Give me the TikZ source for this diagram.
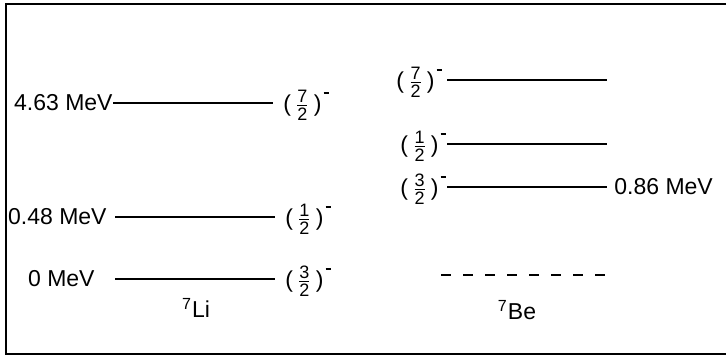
\documentclass[tikz,border=0pt]{standalone}
\usepackage{amsmath}
\usepackage{fontspec}
\setmainfont{Liberation Sans}
\usetikzlibrary{positioning}

% spin-parity label, e.g. (7/2)^-
\newcommand{\spin}[1]{(\hspace{2pt}\ensuremath{\genfrac{}{}{0.4pt}{1}{\mbox{\fontsize{9}{9}\selectfont #1}}{\mbox{\fontsize{9}{9}\selectfont 2}}}\hspace{2pt})\hspace{1pt}\raisebox{9pt}{\rule{2.5pt}{0.7pt}}}

\begin{document}
\begin{tikzpicture}[x=0.5pt, y=-0.5pt,
    level/.style={line width=1.3pt},
    txt/.style={font=\fontsize{11.5}{13}\selectfont, inner sep=0pt}]
    \useasboundingbox (0,0) rectangle (727,359);

    % Khung (open on the right)
    \draw[line width=1.2pt] (726,4) -- (6,4) -- (6,354) -- (726,354);

    % Levels of 7Li
    \coordinate (li0w) at (115,279); \coordinate (li0e) at (275,279);
    \coordinate (li1w) at (115,217); \coordinate (li1e) at (275,217);
    \coordinate (li2w) at (113,103); \coordinate (li2e) at (273,103);
    \draw[level] (li0w) -- (li0e);
    \draw[level] (li1w) -- (li1e);
    \draw[level] (li2w) -- (li2e);

    \node[txt, anchor=east] (eli0) at (95,279) {0 MeV};
    \node[txt, anchor=east] (eli1) at (107,217) {0.48 MeV};
    \node[txt, anchor=east] (eli2) at (li2w) {4.63 MeV};
    \node[txt, anchor=west] (jli0) at (285,281) {\spin{3}};
    \node[txt, anchor=west] (jli1) at (285,219) {\spin{1}};
    \node[txt, anchor=west] (jli2) at (283,105) {\spin{7}};
    \node[txt] (li) at (196,308) {\textsuperscript{7}Li};

    % Levels of 7Be
    \coordinate (be0w) at (441,275); \coordinate (be0e) at (607,275);
    \coordinate (be1w) at (447,187); \coordinate (be1e) at (607,187);
    \coordinate (be2w) at (447,144); \coordinate (be2e) at (607,144);
    \coordinate (be3w) at (447,80);  \coordinate (be3e) at (607,80);
    \draw[line width=1pt, dash pattern=on 5pt off 6pt] (be0w) -- (be0e);
    \draw[level] (be1w) -- (be1e);
    \draw[level] (be2w) -- (be2e);
    \draw[level] (be3w) -- (be3e);

    \node[txt, anchor=west] (ebe1) at (614,187) {0.86 MeV};
    \node[txt, anchor=east] (jbe1) at (446,189) {\spin{3}};
    \node[txt, anchor=east] (jbe2) at (446,146) {\spin{1}};
    \node[txt, anchor=east] (jbe3) at (442,82) {\spin{7}};
    \node[txt] (be) at (517,310) {\textsuperscript{7}Be};
\end{tikzpicture}
\end{document}
